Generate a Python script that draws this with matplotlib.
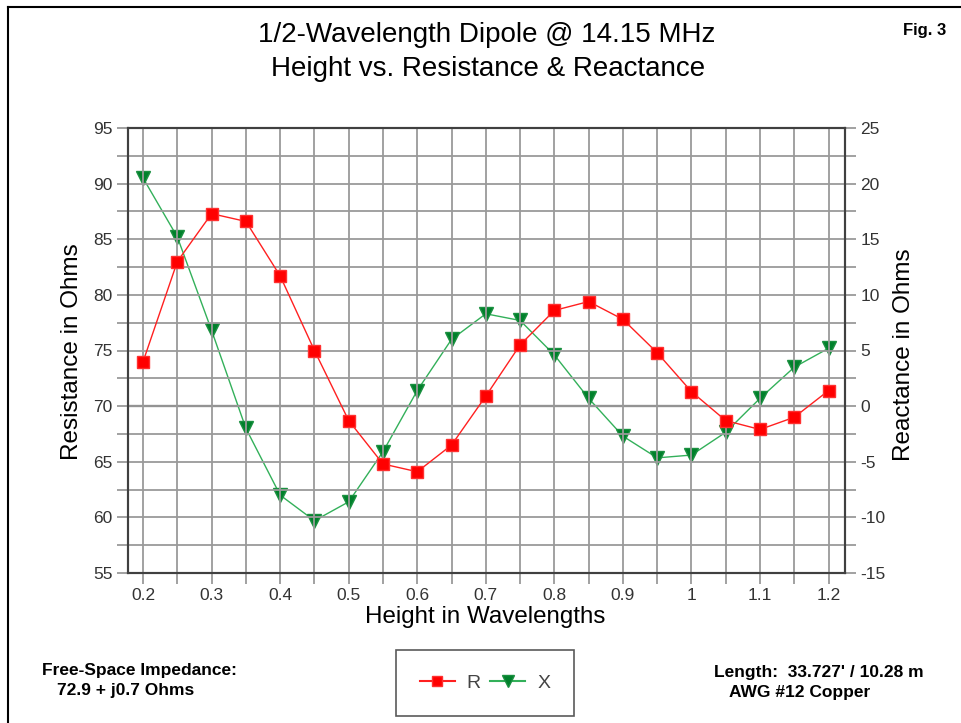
import numpy as np
import matplotlib.pyplot as plt
from matplotlib.ticker import MultipleLocator, FuncFormatter
from matplotlib.lines import Line2D

# dipole height in wavelengths, feedpoint R and X (ohms)
height = [0.2, 0.25, 0.3, 0.35, 0.4, 0.45, 0.5, 0.55, 0.6, 0.65, 0.7,
          0.75, 0.8, 0.85, 0.9, 0.95, 1.0, 1.05, 1.1, 1.15, 1.2]
resistance = [74.0, 83.0, 87.3, 86.6, 81.7, 75.0, 68.7, 64.8, 64.1, 66.5, 70.9,
              75.5, 78.6, 79.4, 77.8, 74.8, 71.3, 68.7, 67.9, 69.0, 71.4]
reactance = [20.5, 15.2, 6.8, -2.0, -8.0, -10.3, -8.6, -4.1, 1.4, 6.0, 8.3,
             7.7, 4.6, 0.7, -2.7, -4.65, -4.4, -2.35, 0.7, 3.5, 5.2]

title_lines = ["1/2-Wavelength Dipole @ 14.15 MHz",
               "Height vs. Resistance & Reactance"]
impedance_note = ["Free-Space Impedance:", "72.9 + j0.7 Ohms"]
wire_note = ["Length:  33.727' / 10.28 m", "AWG #12 Copper"]

plt.rcParams['font.family'] = ['Liberation Sans', 'DejaVu Sans']
plt.rcParams['axes.unicode_minus'] = False

W, H = 961, 723
fig = plt.figure(figsize=(W / 100, H / 100), dpi=100)
fig.patch.set_facecolor('white')

def fx(px):
    return px / W

def fy(py):
    return 1 - py / H

ax = fig.add_axes([fx(128), fy(573), fx(845) - fx(128), fy(128) - fy(573)])
ax2 = ax.twinx()

grid_col = '#9a9a9a'
axis_col = '#404040'
tick_col = '#333333'

ax.set_xlim(0.178, 1.224)
ax.set_ylim(55, 95)
ax2.set_ylim(-15, 25)

ax.xaxis.set_major_locator(MultipleLocator(0.1))
ax.xaxis.set_minor_locator(MultipleLocator(0.05))
ax.yaxis.set_major_locator(MultipleLocator(5))
ax.yaxis.set_minor_locator(MultipleLocator(2.5))
ax2.yaxis.set_major_locator(MultipleLocator(5))
ax2.yaxis.set_minor_locator(MultipleLocator(2.5))
ax.xaxis.set_major_formatter(FuncFormatter(lambda v, p: '%g' % round(v, 2)))
ax2.yaxis.set_major_formatter(FuncFormatter(lambda v, p: '%g' % v))

ax.grid(True, which='both', color=grid_col, linewidth=1.3)
ax.set_axisbelow(True)
# zero-reactance reference line
ax2.axhline(0, color='#555555', linewidth=1.6, zorder=1)

for a in (ax, ax2):
    for s in a.spines.values():
        s.set_color(axis_col)
        s.set_linewidth(1.5)
    a.tick_params(which='both', direction='out', length=8, width=1.1,
                  color='#888888', labelsize=12.5, labelcolor=tick_col, pad=3)

ax2.plot(height, reactance, color='#33b05a', linewidth=1.0, marker='v',
         markersize=9.5, markerfacecolor='#00802b', markeredgecolor='#1a9040',
         zorder=3)
ax.plot(height, resistance, color='#ff2020', linewidth=1.0, marker='s',
        markersize=9, markerfacecolor='#ff0000', markeredgecolor='#ff3030',
        zorder=4)
ax.set_zorder(ax2.get_zorder() + 1)
ax.patch.set_visible(False)

fig.text(fx(72), fy(352), 'Resistance in Ohms', rotation=90, fontsize=17.5,
         ha='center', va='center')
fig.text(fx(904), fy(355), 'Reactance in Ohms', rotation=90, fontsize=17.5,
         ha='center', va='center')
fig.text(fx(485), fy(617), 'Height in Wavelengths', fontsize=17.4,
         ha='center', va='center')

fig.text(fx(487), fy(35), title_lines[0], fontsize=20, ha='center', va='center')
fig.text(fx(488), fy(69), title_lines[1], fontsize=20, ha='center', va='center')
fig.text(fx(925), fy(30), 'Fig. 3', fontsize=12, fontweight='bold',
         ha='center', va='center')

fig.text(fx(42), fy(670), impedance_note[0], fontsize=12.5, fontweight='bold',
         ha='left', va='center')
fig.text(fx(57), fy(691), impedance_note[1], fontsize=12.5, fontweight='bold',
         ha='left', va='center')
fig.text(fx(714), fy(672), wire_note[0], fontsize=12.5, fontweight='bold',
         ha='left', va='center')
fig.text(fx(729), fy(693), wire_note[1], fontsize=12.5, fontweight='bold',
         ha='left', va='center')

handles = [Line2D([], [], color='#ff2020', marker='s', markersize=7,
                  markerfacecolor='#ff0000', markeredgecolor='#ff3030'),
           Line2D([], [], color='#33b05a', marker='v', markersize=8,
                  markerfacecolor='#00802b', markeredgecolor='#1a9040')]
leg = fig.legend(handles, ['R', 'X'], ncol=2, loc='center',
                 bbox_to_anchor=(fx(485), fy(683)), frameon=True,
                 fancybox=False, edgecolor='#303030', fontsize=14,
                 handlelength=1.8, columnspacing=0.5, handletextpad=0.6,
                 borderpad=1.25, borderaxespad=0)
leg.get_frame().set_linewidth(1.2)
for t in leg.get_texts():
    t.set_color('#444444')

# outer frame along the left and top edges
fig.add_artist(Line2D([fx(8), fx(8)], [0, fy(7)], color='black', linewidth=1.5))
fig.add_artist(Line2D([fx(8), 1], [fy(7), fy(7)], color='black', linewidth=1.5))

fig.savefig('out.png', dpi=100)
